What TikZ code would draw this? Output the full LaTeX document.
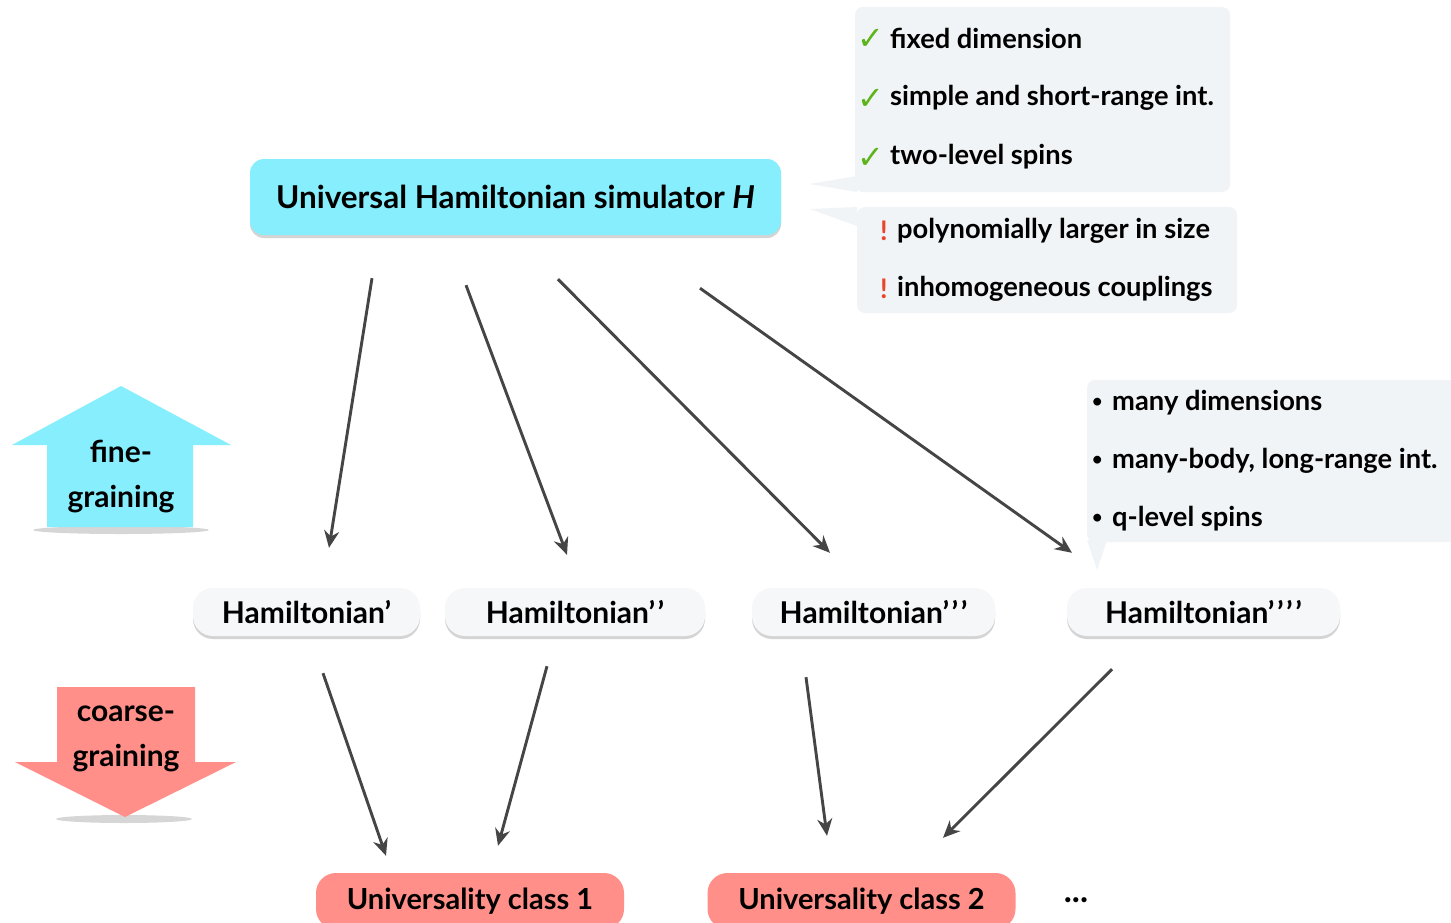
\documentclass[tikz,border=0pt]{standalone}
\usepackage{fontspec}
\setmainfont{Lato}
\newfontfamily\symfont{DejaVu Sans}
\usetikzlibrary{arrows.meta,calc,shadows}

\definecolor{skyfill}{HTML}{86EEFC}
\definecolor{salmonfill}{HTML}{FF8F88}
\definecolor{notefill}{HTML}{F1F4F6}
\definecolor{pillfill}{HTML}{F5F7F8}
\definecolor{okgreen}{HTML}{5DB31A}
\definecolor{warnred}{HTML}{E8452A}
\definecolor{linkgray}{HTML}{454545}

% a prime mark with a little room after it, so several stay apart
\newcommand{\pr}{’\kern2.5pt}

\tikzset{
  softshadow/.style={drop shadow={shadow xshift=0pt,shadow yshift=-3pt,opacity=.3,fill=black!55}},
  mainbox/.style={shape=rectangle,rounded corners=14pt,fill=skyfill,minimum width=531pt,
    minimum height=76pt,inner sep=0pt,softshadow,font=\fontsize{31.5}{36}\selectfont\bfseries},
  hambox/.style={shape=rectangle,rounded corners=20pt,fill=pillfill,minimum height=48pt,
    inner sep=0pt,softshadow,font=\fontsize{30}{34}\selectfont\bfseries},
  classbox/.style={shape=rectangle,rounded corners=20pt,fill=salmonfill,minimum width=308pt,
    minimum height=56pt,inner sep=0pt,font=\fontsize{29}{34}\selectfont\bfseries},
  notetext/.style={anchor=west,inner sep=0pt,font=\fontsize{27.3}{30}\selectfont\bfseries},
  markcheck/.style={anchor=west,inner sep=0pt,text=okgreen,font=\fontsize{32}{34}\selectfont\symfont\bfseries},
  markwarn/.style={anchor=west,inner sep=0pt,text=warnred,font=\fontsize{27}{30}\selectfont\bfseries},
  markdot/.style={anchor=west,inner sep=0pt,font=\fontsize{18}{24}\selectfont\bfseries},
  arrowtext/.style={align=center,inner sep=0pt,font=\fontsize{30}{45}\selectfont\bfseries},
  link/.style={draw=linkgray,line width=2.9pt,-{Stealth[length=17pt,width=15pt]}}
}

\begin{document}
\begin{tikzpicture}[x=1pt,y=-1pt]
\useasboundingbox (0,0) rectangle (1451,922);
\fill[white] (0,0) rectangle (1451,922);

% ---- callout bubbles ----
\fill[notefill,rounded corners=8pt] (855,7) rectangle (1230,192);
\fill[notefill] (857,176) -- (810,184) -- (857,192) -- cycle;
\fill[notefill,rounded corners=8pt] (857,207) rectangle (1237,313);
\fill[notefill] (857,207) -- (810,209) -- (857,226) -- cycle;
\fill[notefill,rounded corners=8pt] (1087,380) rectangle (1470,542);
\fill[notefill] (1087,540) -- (1097,570) -- (1107,540) -- cycle;

% first list: properties of the simulator
\node[markcheck] (c1) at (857,39) {✓};
\node[notetext]  (t1) at (890,38) {fixed dimension};
\node[markcheck] (c2) at (857,99) {✓};
\node[notetext]  (t2) at (890,98) {simple and short-range int.};
\node[markcheck] (c3) at (857,158) {✓};
\node[notetext]  (t3) at (890,157) {two-level spins};

% second list: the cost
\node[markwarn] (w1) at (880,231) {!};
\node[notetext] (t4) at (897,231) {polynomially larger in size};
\node[markwarn] (w2) at (880,289) {!};
\node[notetext] (t5) at (897,289) {inhomogeneous couplings};

% third list: what the targets may have
\node[markdot]  (d1) at (1092,403) {•};
\node[notetext] (t6) at (1112,403) {many dimensions};
\node[markdot]  (d2) at (1092,461) {•};
\node[notetext] (t7) at (1112,461) {many-body, long-range int.};
\node[markdot]  (d3) at (1092,519) {•};
\node[notetext] (t8) at (1112,519) {q-level spins};

% ---- main nodes ----
\node[mainbox] (top) at (515.5,197) {Universal Hamiltonian simulator \textit{H}};

\node[hambox,minimum width=227pt] (h1) at (306.5,612) {Hamiltonian’};
\node[hambox,minimum width=260pt] (h2) at (575,612)   {Hamiltonian\pr’};
\node[hambox,minimum width=243pt] (h3) at (873.5,612) {Hamiltonian\pr\pr’};
\node[hambox,minimum width=273pt] (h4) at (1203.5,612){Hamiltonian\pr\pr\pr’};

\node[classbox] (u1) at (470,901)   {Universality class 1};
\node[classbox] (u2) at (861.5,901) {Universality class 2};
\node[inner sep=0pt,font=\fontsize{34}{36}\selectfont\bfseries] (more) at (1076,900) {...};

% ---- side arrows ----
\fill[black,opacity=.16] (121,530) ellipse (88pt and 4pt);
\fill[skyfill] (121,386) -- (231,445) -- (193,445) -- (193,527) -- (47,527)
  -- (47,445) -- (12,445) -- cycle;
\node[arrowtext] (fine) at (121,477) {fine-\\graining};

\fill[black,opacity=.16] (124,819) ellipse (68pt and 4pt);
\fill[salmonfill] (57,687) -- (195,687) -- (195,762) -- (236,762) -- (125,817)
  -- (15,762) -- (57,762) -- cycle;
\node[arrowtext] (coarse) at (126,739) {coarse-\\graining};

% ---- connectors: simulator to the targets ----
\draw[link] ($(top.south)+(-143.5,43)$) -- ($(h1.north)+(22.5,-40)$);
\draw[link] ($(top.south)+(-49.5,50)$)  -- ($(h2.north)+(-8,-33)$);
\draw[link] ($(top.south)+(42.5,44)$)   -- ($(h3.north)+(-43.5,-35)$);
\draw[link] ($(top.south)+(184.5,53)$)  -- ($(h4.north)+(-131.5,-35)$);

% ---- connectors: targets to universality classes ----
\draw[link] ($(h1.south)+(16.5,37)$)  -- ($(u1.north)+(-84,-17)$);
\draw[link] ($(h2.south)+(-28,30)$)   -- ($(u1.north)+(28,-27)$);
\draw[link] ($(h3.south)+(-67.5,41)$) -- ($(u2.north)+(-34.5,-37)$);
\draw[link] ($(h4.south)+(-91.5,33)$) -- ($(u2.north)+(81.5,-35)$);
\end{tikzpicture}
\end{document}
